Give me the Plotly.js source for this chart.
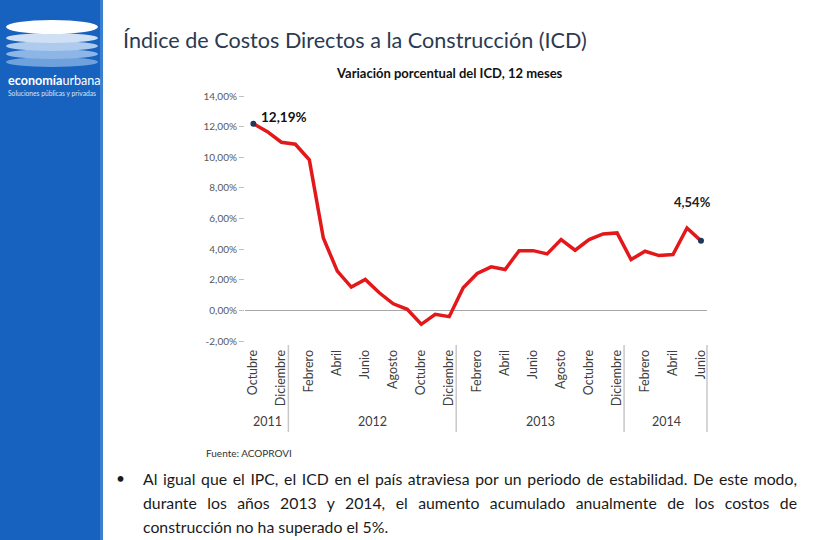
<!DOCTYPE html>
<html>
<head>
<meta charset="utf-8">
<script src="https://cdn.plot.ly/plotly-3.0.1.min.js"></script>
<style>
html,body{margin:0;padding:0;background:#fff;}
#wrap{position:relative;width:822px;height:540px;overflow:hidden;}
#chart{position:absolute;left:0;top:0;width:822px;height:540px;}
#bullet{position:absolute;left:116px;top:469px;font-family:Lato,sans-serif;font-size:15.5px;color:#1a1a1a;}
#para{position:absolute;left:143px;top:467px;width:654px;font-family:Lato,sans-serif;font-size:15.8px;line-height:24px;color:#1a1a1a;}
#para div{text-align:justify;text-align-last:justify;white-space:nowrap;}
#para div.lastline{text-align-last:left;}
</style>
</head>
<body>
<div id="wrap">
<div id="chart"></div>
<div id="bullet">•</div>
<div id="para"><div>Al igual que el IPC, el ICD en el país atraviesa por un periodo de estabilidad. De este modo,</div><div>durante los años 2013 y 2014, el aumento acumulado anualmente de los costos de</div><div class="lastline">construcción no ha superado el 5%.</div></div>
</div>
<script>
// ---- data ----
const meses = ['Octubre','Noviembre','Diciembre',
  'Enero','Febrero','Marzo','Abril','Mayo','Junio','Julio','Agosto','Septiembre','Octubre','Noviembre','Diciembre',
  'Enero','Febrero','Marzo','Abril','Mayo','Junio','Julio','Agosto','Septiembre','Octubre','Noviembre','Diciembre',
  'Enero','Febrero','Marzo','Abril','Mayo','Junio'];
const anios = [2011,2011,2011,
  2012,2012,2012,2012,2012,2012,2012,2012,2012,2012,2012,2012,
  2013,2013,2013,2013,2013,2013,2013,2013,2013,2013,2013,2013,
  2014,2014,2014,2014,2014,2014];
const icd = [12.19, 11.67, 10.98, 10.85, 9.83, 4.73, 2.56, 1.52, 2.02, 1.15, 0.43, 0.07,
  -0.91, -0.26, -0.41, 1.48, 2.41, 2.84, 2.67, 3.90, 3.90, 3.69, 4.62, 3.93,
  4.62, 4.99, 5.06, 3.32, 3.86, 3.58, 3.65, 5.38, 4.54];
const yTicks = [-2,0,2,4,6,8,10,12,14];

// ---- layout helpers ----
const L = 245, R = 707, T = 96, B = 341;
const W = 822, H = 540;
const px = x => (x - L) / (R - L);
const py = y => (B - y) / (B - T);

const idx = icd.map((_, i) => i);
const tickIdx = idx.filter(i => i % 2 === 0);
const last = icd.length - 1;
const fmt = v => v.toFixed(2).replace('.', ',') + '%';

const shapes = [];
const annotations = [];

// sidebar
shapes.push({type:'rect', xref:'paper', yref:'paper', x0:px(0), x1:px(103), y0:py(0), y1:py(H),
  fillcolor:'#1762be', line:{width:0}, layer:'below'});
shapes.push({type:'rect', xref:'paper', yref:'paper', x0:px(100), x1:px(103), y0:py(0), y1:py(H),
  fillcolor:'#3b7fd0', line:{width:0}, layer:'below'});
// logo ellipses
const ell = [[57,67,'#6fa2dc'],[49,59,'#8db6e6'],[41,51,'#aecbee'],[33,43,'#cfe0f5'],[20,34,'#ffffff']];
ell.forEach(e => shapes.push({type:'circle', xref:'paper', yref:'paper',
  x0:px(6), x1:px(98), y0:py(e[1]), y1:py(e[0]), fillcolor:e[2], line:{width:0}}));

// year separators
const sepX = [];
for (let i = 1; i < anios.length; i++) if (anios[i] !== anios[i-1]) sepX.push(i - 0.5);
sepX.forEach(x => shapes.push({type:'line', xref:'x', yref:'paper', x0:x, x1:x, y0:py(345), y1:py(432),
  line:{color:'#c8c8c8', width:1.5}}));
shapes.push({type:'line', xref:'paper', yref:'paper', x0:1, x1:1, y0:py(345), y1:py(432),
  line:{color:'#c8c8c8', width:1.5}});

// year labels
[...new Set(anios)].forEach(a => {
  const ids = idx.filter(i => anios[i] === a);
  const c = (ids[0] + ids[ids.length-1]) / 2;
  annotations.push({xref:'x', yref:'paper', x:c, y:py(421), text:String(a), showarrow:false,
    font:{size:12.5, color:'#404040', family:'Lato'}, xanchor:'center', yanchor:'middle'});
});

// titles
annotations.push({xref:'paper', yref:'paper', x:px(121), y:py(40), text:'Índice de Costos Directos a la Construcción (ICD)',
  showarrow:false, xanchor:'left', yanchor:'middle', font:{size:21.6, color:'#2b3a50', family:'Lato'}});
annotations.push({xref:'paper', yref:'paper', x:px(449), y:py(73), text:'<b>Variación porcentual del ICD, 12 meses</b>',
  showarrow:false, xanchor:'center', yanchor:'middle', font:{size:13, color:'#111', family:'Lato'}});
annotations.push({xref:'paper', yref:'paper', x:px(204), y:py(453), text:'Fuente: ACOPROVI',
  showarrow:false, xanchor:'left', yanchor:'middle', font:{size:10, color:'#333', family:'Lato'}});
// logo text
annotations.push({xref:'paper', yref:'paper', x:px(6), y:py(80), text:'<b>economía</b>urbana',
  showarrow:false, xanchor:'left', yanchor:'middle', font:{size:12.6, color:'#ffffff', family:'Lato'}});
annotations.push({xref:'paper', yref:'paper', x:px(6), y:py(93), text:'Soluciones públicas y privadas',
  showarrow:false, xanchor:'left', yanchor:'middle', font:{size:6.7, color:'#d8e6f6', family:'Lato'}});

// data labels
annotations.push({xref:'x', yref:'y', x:0, y:icd[0], text:'<b>'+fmt(icd[0])+'</b>', showarrow:false,
  xanchor:'left', yanchor:'middle', xshift:6, yshift:7, font:{size:13.5, color:'#111', family:'Lato'}});
annotations.push({xref:'x', yref:'y', x:last, y:icd[last], text:'<b>'+fmt(icd[last])+'</b>', showarrow:false,
  xanchor:'center', yanchor:'middle', xshift:-8, yshift:39, font:{size:13, color:'#222', family:'Lato'}});

const traces = [
  {x: idx, y: icd, type:'scatter', mode:'lines', line:{color:'#e3181b', width:3.5}, hoverinfo:'skip'},
  {x: [0, last], y: [icd[0], icd[last]], type:'scatter', mode:'markers',
   marker:{color:'#1f3759', size:6}, hoverinfo:'skip'}
];

const layout = {
  width: W, height: H,
  margin: {l: L, r: W - R, t: T, b: H - B, pad: 0},
  paper_bgcolor: 'rgba(0,0,0,0)', plot_bgcolor: 'rgba(0,0,0,0)',
  showlegend: false,
  font: {family: 'Lato', color: '#444'},
  xaxis: {
    range: [-0.6, last + 0.43], showgrid: false, zeroline: false, showline: false,
    tickmode: 'array', tickvals: tickIdx, ticktext: tickIdx.map(i => meses[i]), tickangle: -90,
    ticks: 'outside', ticklen: 3, tickcolor: 'rgba(0,0,0,0)',
    tickfont: {size: 12.5, color: '#404040', family: 'Lato'}, fixedrange: true
  },
  yaxis: {
    range: [-2, 14], tickmode: 'array', tickvals: yTicks, ticktext: yTicks.map(fmt),
    showgrid: false, zeroline: true, zerolinecolor: '#a6a6a6', zerolinewidth: 1,
    showline: false, ticks: 'outside', ticklen: 5, tickcolor: '#bfbfbf',
    tickfont: {size: 10, color: '#595959', family: 'Lato'}, fixedrange: true
  },
  shapes: shapes,
  annotations: annotations
};

Plotly.newPlot('chart', traces, layout, {staticPlot: true, displayModeBar: false});
</script>
</body>
</html>
